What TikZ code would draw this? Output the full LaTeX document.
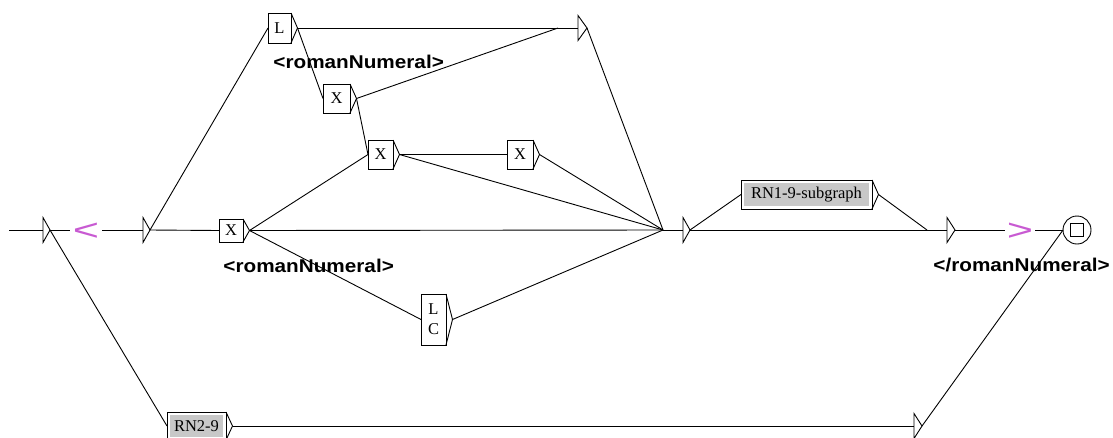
\documentclass[tikz,border=0pt]{standalone}
\usepackage{fontspec}
\usepackage{graphicx}
\setmainfont{Liberation Serif}
\newfontfamily\outfont{Liberation Sans}
\usetikzlibrary{calc}
\definecolor{ctxmag}{RGB}{200,90,210}
\definecolor{subgray}{RGB}{200,200,200}
\newcommand\UBox[6]{%
  \pgfmathsetmacro\uW{#4-#2}\pgfmathsetmacro\uH{#5-#3}%
  \pgfmathsetmacro\uX{(#2+#4)/2}\pgfmathsetmacro\uY{(#3+#5)/2}%
  \node[ubox, minimum width=\uW pt, minimum height=\uH pt] (#1) at (\uX,\uY) {#6};
  \draw (#1.north east) -- ($(#1.east)+(6.5,0)$) coordinate (#1-t) -- (#1.south east);
}
\newcommand\SBox[6]{%
  \pgfmathsetmacro\uW{#4-#2}\pgfmathsetmacro\uH{#5-#3}%
  \pgfmathsetmacro\uX{(#2+#4)/2}\pgfmathsetmacro\uY{(#3+#5)/2}%
  \node[ubox, minimum width=\uW pt, minimum height=\uH pt] (#1) at (\uX,\uY) {};
  \fill[subgray] ($(#1.north west)+(2.8,2.8)$) rectangle ($(#1.south east)+(-2.8,-2.8)$);
  \node[lbl] (#1-txt) at (#1.center) {#6};
  \draw (#1.north east) -- ($(#1.east)+(6.5,0)$) coordinate (#1-t) -- (#1.south east);
}
\newcommand\ENode[5]{% name, in-x, left-x, tip-x, y
  \coordinate (#1-in) at (#2,#5);
  \coordinate (#1-t) at (#4,#5);
  \draw (#1-in) -- (#3,#5);
  \draw (#3,#5-12.5) -- (#1-t) -- (#3,#5+12.5) -- cycle;
}
\begin{document}
\begin{tikzpicture}[x=1pt,y=-1pt,line width=0.9pt,
  ubox/.style={draw,fill=white,inner sep=0pt,outer sep=0pt,align=center,
    font=\fontsize{16.5}{20}\selectfont},
  lbl/.style={inner sep=0pt,font=\fontsize{16.5}{20}\selectfont},
  outlbl/.style={inner sep=0pt,anchor=west,font=\outfont\bfseries\fontsize{18.5}{20}\selectfont},
  ctx/.style={inner sep=0pt,outer sep=0pt,text=ctxmag,font=\outfont\fontsize{30}{30}\selectfont}]
\useasboundingbox (0,0) rectangle (1113,437);
\clip (0,0) rectangle (1113,437);
\fill[white] (0,0) rectangle (1113,437);

% states and boxes
\ENode{I}{9}{43}{50}{230}
\node[ctx,minimum width=32pt] (lt) at (86,231.5) {\scalebox{1.5}[1]{<}};
\ENode{E1}{143}{143}{150}{230}
\UBox{X1}{219}{219}{243}{242}{X}
\UBox{L}{268}{13}{291}{43}{L}
\UBox{X2}{323}{84}{350}{113}{X}
\UBox{X3}{368}{140}{393}{169}{X}
\UBox{X4}{507}{140}{533}{169}{X}
\UBox{LC}{421}{294}{446}{345}{L\\C}
\ENode{E2}{558}{578}{587}{28}
\ENode{E3}{663}{683}{690}{230}
\SBox{RN19}{741}{180}{872}{209}{RN1-9-subgraph}
\ENode{E4}{927}{947}{955}{230}
\node[ctx,minimum width=30pt] (gt) at (1020,231.5) {\scalebox{1.5}[1]{>}};
\node[draw,circle,fill=white,minimum size=28pt,inner sep=0pt,outer sep=0pt] (F) at (1077,230) {};
\draw ($(F.center)+(-6.5,-6.5)$) rectangle ($(F.center)+(6.5,6.5)$);
\SBox{RN29}{167}{412}{226}{440}{RN2-9}
\ENode{E5}{914}{914}{922}{426}

% outputs
\node[outlbl] (o1) at (273,62) {\scalebox{1.12}[1]{<romanNumeral>}};
\node[outlbl] (o2) at (223,266) {\scalebox{1.12}[1]{<romanNumeral>}};
\node[outlbl] (o3) at (933,264.5) {\scalebox{1.12}[1]{</romanNumeral>}};

% transitions
\draw (I-t) -- (I-t -| lt.west);
\draw (I-t -| lt.east) -- (E1-in);
\draw (I-t) -- (RN29.west);
\draw (E1-t) -- (X1.west);
\draw (E1-t) -- (L.west);
\draw (L-t) -- (E2-in);
\draw (L-t) -- (X2.west);
\draw (X2-t) -- (E2-in);
\draw (X2-t) -- (X3.west);
\draw (X1-t) -- (X3.west);
\draw (X1-t) -- (E3-in);
\draw (X1-t) -- (LC.west);
\draw (X3-t) -- (X4.west);
\draw (X3-t) -- (E3-in);
\draw (X4-t) -- (E3-in);
\draw (LC-t) -- (E3-in);
\draw (E2-t) -- (E3-in);
\draw (E3-t) -- (RN19.west);
\draw (E3-t) -- (E4-in);
\draw (RN19-t) -- (E4-in);
\draw (E4-t) -- (E4-t -| gt.west);
\draw (E4-t -| gt.east) -- (F.west);
\draw (RN29-t) -- (E5-in);
\draw (E5-t) -- (F.west);
\end{tikzpicture}
\end{document}
